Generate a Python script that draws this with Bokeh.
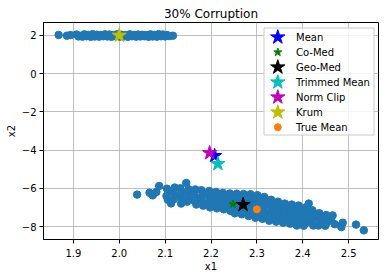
from bokeh.plotting import figure
from bokeh.models import Range1d, FixedTicker
from bokeh.core.properties import value
from bokeh.embed import file_html
from bokeh.resources import INLINE

# ---- data ----
top_x = [1.868, 1.886, 1.894, 1.907, 1.915, 1.924, 1.933, 1.942, 1.951, 1.960, 1.969, 1.978, 1.987, 1.996,
         2.005, 2.014, 2.023, 2.032, 2.041, 2.050, 2.059, 2.068, 2.077, 2.086, 2.095, 2.104, 2.117,
         1.911, 1.920, 1.929, 1.938, 1.947, 1.956, 1.965, 1.974, 1.983, 1.992, 2.001, 2.010, 2.019,
         2.028, 2.037, 2.046, 2.055, 2.064, 2.073, 2.082, 2.091, 2.100, 2.109]
top_y = [2.03, 1.99, 2.02, 2.05, 1.98, 2.06, 2.03, 2.07, 2.04, 2.02, 2.06, 2.05, 2.03, 2.07,
         2.04, 2.02, 2.06, 2.03, 2.05, 2.04, 2.02, 2.06, 2.03, 2.07, 2.05, 2.02, 1.99,
         1.95, 1.94, 1.96, 1.93, 1.95, 1.94, 1.96, 1.95, 1.93, 1.96, 1.94, 1.95, 1.93,
         1.96, 1.94, 1.95, 1.96, 1.93, 1.95, 1.94, 1.96, 1.95, 1.97]

low_x = [2.104, 2.107, 2.103, 2.106,
         2.121, 2.118, 2.122, 2.119, 2.113,
         2.133, 2.137, 2.134, 2.138, 2.135,
         2.151, 2.149, 2.152, 2.148,
         2.166, 2.163, 2.167, 2.164, 2.168,
         2.179, 2.182, 2.178, 2.181, 2.183,
         2.196, 2.193, 2.197, 2.194, 2.198,
         2.211, 2.208, 2.212, 2.209, 2.213,
         2.226, 2.223, 2.227, 2.224, 2.228,
         2.241, 2.238, 2.242, 2.239, 2.243,
         2.256, 2.253, 2.257, 2.254, 2.258, 2.252,
         2.271, 2.268, 2.272, 2.269, 2.273, 2.267,
         2.286, 2.283, 2.287, 2.284, 2.288, 2.282,
         2.301, 2.298, 2.302, 2.299, 2.303, 2.297,
         2.316, 2.313, 2.317, 2.314, 2.318, 2.312,
         2.331, 2.328, 2.332, 2.329, 2.333, 2.327,
         2.346, 2.343, 2.347, 2.344, 2.348, 2.342,
         2.361, 2.358, 2.362, 2.359, 2.363, 2.357,
         2.376, 2.373, 2.377, 2.374, 2.378, 2.372,
         2.391, 2.388, 2.392, 2.389, 2.393, 2.387,
         2.406, 2.403, 2.407, 2.404, 2.408, 2.402,
         2.421, 2.418, 2.422, 2.419, 2.423,
         2.436, 2.433, 2.437, 2.434,
         2.451, 2.448, 2.452, 2.449,
         2.039, 2.066, 2.073, 2.081, 2.087, 2.146, 2.413, 2.465, 2.462, 2.470, 2.484, 2.487, 2.516, 2.533]
low_y = [-6.02, -6.21, -6.40, -6.60,
         -5.96, -6.16, -6.37, -6.57, -6.79,
         -6.00, -6.22, -6.43, -6.63, -6.80,
         -6.05, -6.26, -6.46, -6.70,
         -6.06, -6.27, -6.47, -6.66, -6.85,
         -6.10, -6.30, -6.51, -6.71, -6.91,
         -6.14, -6.36, -6.58, -6.80, -7.00,
         -6.19, -6.41, -6.62, -6.84, -7.05,
         -6.24, -6.45, -6.66, -6.88, -7.10,
         -6.27, -6.50, -6.72, -6.95, -7.19,
         -6.28, -6.50, -6.73, -6.96, -7.15, -7.31,
         -6.30, -6.52, -6.75, -6.98, -7.18, -7.36,
         -6.31, -6.53, -6.76, -7.00, -7.22, -7.45,
         -6.36, -6.58, -6.80, -7.03, -7.28, -7.54,
         -6.45, -6.68, -6.90, -7.12, -7.36, -7.60,
         -6.60, -6.82, -7.04, -7.26, -7.48, -7.70,
         -6.70, -6.92, -7.13, -7.34, -7.55, -7.75,
         -6.80, -7.00, -7.20, -7.40, -7.60, -7.80,
         -6.85, -7.05, -7.25, -7.45, -7.65, -7.85,
         -6.90, -7.12, -7.33, -7.54, -7.75, -7.95,
         -7.00, -7.20, -7.40, -7.60, -7.80, -7.96,
         -7.15, -7.35, -7.55, -7.75, -7.95,
         -7.30, -7.50, -7.72, -7.95,
         -7.40, -7.60, -7.80, -7.96,
         -6.33, -6.23, -6.37, -6.19, -5.88, -5.72, -6.80, -7.42, -7.68, -7.88, -8.03, -7.80, -7.90, -8.20]

est_names = ["Mean", "Co-Med", "Geo-Med", "Trimmed Mean", "Norm Clip", "Krum"]
est_x = [2.208, 2.248, 2.270, 2.215, 2.197, 2.000]
est_y = [-4.30, -6.83, -6.86, -4.72, -4.15, 2.00]
est_colors = ["#0000ff", "#008000", "#000000", "#00bfbf", "#bf00bf", "#bfbf00"]
est_sizes = [15, 8.5, 15, 15, 15, 15]
true_mean_x = [2.300]
true_mean_y = [-7.10]
true_mean_name = "True Mean"
true_mean_color = "#ff7f0e"

x_ticks = [1.9, 2.0, 2.1, 2.2, 2.3, 2.4, 2.5]
x_tick_labels = ["1.9", "2.0", "2.1", "2.2", "2.3", "2.4", "2.5"]
y_ticks = [-8, -6, -4, -2, 0, 2]
y_tick_labels = ["\u22128", "\u22126", "\u22124", "\u22122", "0", "2"]

FONT = "DejaVu Sans"
XR = (1.835, 2.565)
YR = (-8.68, 2.68)

# frame placement on the canvas (pixels)
FL, FR, FT, FB = 43, 378, 22, 239
W, H = 384, 278

p = figure(width=W, height=H, output_backend="svg", toolbar_location=None,
           x_range=Range1d(*XR), y_range=Range1d(*YR),
           min_border_left=FL, min_border_right=W - FR, min_border_top=FT, min_border_bottom=H - FB,
           title="30% Corruption")
p.title.text_font = FONT
p.title.text_font_size = "12px"
p.title.text_font_style = "normal"
p.title.align = "center"
p.title.standoff = 4
p.title.offset = 0
p.title.text_color = "black"

p.outline_line_color = "black"
p.outline_line_width = 1
p.background_fill_color = "white"
p.border_fill_color = "white"

for ax in (p.xaxis[0], p.yaxis[0]):
    ax.major_label_text_font = FONT
    ax.major_label_text_font_size = "10px"
    ax.major_label_text_color = "black"
    ax.axis_label_text_font = FONT
    ax.axis_label_text_font_size = "10px"
    ax.axis_label_text_font_style = "normal"
    ax.axis_label_text_color = "black"
    ax.major_tick_in = 0
    ax.major_tick_out = 4
    ax.minor_tick_in = 0
    ax.minor_tick_out = 0
    ax.major_tick_line_color = "black"
    ax.axis_line_color = "black"

p.xaxis.major_label_standoff = 5
p.xaxis.axis_label_standoff = 1
p.yaxis.major_label_standoff = 3
p.yaxis.axis_label_standoff = 2

p.xaxis.ticker = FixedTicker(ticks=x_ticks)
p.yaxis.ticker = FixedTicker(ticks=y_ticks)
p.xaxis.major_label_overrides = dict(zip(x_ticks, x_tick_labels))
p.yaxis.major_label_overrides = dict(zip(y_ticks, y_tick_labels))
p.xaxis.axis_label = "x1"
p.yaxis.axis_label = "x2"

p.grid.grid_line_color = "#b0b0b0"
p.grid.grid_line_width = 0.8

p.scatter(top_x, top_y, size=7.5, color="#1f77b4")
p.scatter(low_x, low_y, size=7.5, color="#1f77b4")

for x, y, c, s in zip(est_x, est_y, est_colors, est_sizes):
    p.scatter([x], [y], marker="star", size=s, fill_color=c, line_color=c)
p.scatter(true_mean_x, true_mean_y, size=7, color=true_mean_color)

# ---- legend drawn by hand (matplotlib-style: big markers, 15px rows) ----
def px2x(px):
    return XR[0] + (px - FL) / (FR - FL) * (XR[1] - XR[0])

def py2y(py):
    return YR[1] - (py - FT) / (FB - FT) * (YR[1] - YR[0])

LEG_L, LEG_R, LEG_T, LEG_B = 263.5, 373.5, 27.5, 134.5
ROW0, ROW_H, MARK_X, TEXT_X = 36.7, 15.0, 277.3, 295.5

p.quad(left=[px2x(LEG_L)], right=[px2x(LEG_R)], top=[py2y(LEG_T)], bottom=[py2y(LEG_B)],
       fill_color="white", fill_alpha=0.8, line_color="#cccccc", line_width=1)

leg_names = est_names + [true_mean_name]
leg_colors = est_colors + [true_mean_color]
leg_sizes = est_sizes + [7]
leg_markers = ["star"] * len(est_names) + ["circle"]
leg_y = [py2y(ROW0 + ROW_H * i) for i in range(len(leg_names))]
leg_mx = [px2x(MARK_X)] * len(leg_names)
leg_tx = [px2x(TEXT_X)] * len(leg_names)

for mx, my, c, s, m in zip(leg_mx, leg_y, leg_colors, leg_sizes, leg_markers):
    p.scatter([mx], [my], marker=m, size=s, fill_color=c, line_color=c)
p.text(x=leg_tx, y=leg_y, text=leg_names, text_font=value(FONT), text_font_size="10px",
       text_baseline="middle", text_align="left", text_color="black")

open("out.html", "w").write(file_html(p, INLINE))
